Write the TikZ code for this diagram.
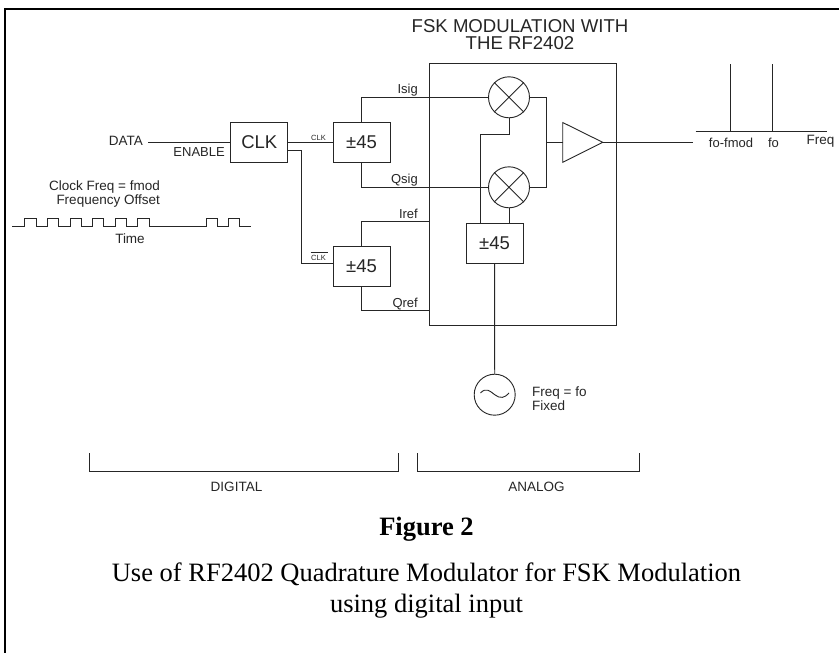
\documentclass[tikz,border=0pt]{standalone}
\usepackage{fontspec}
\setmainfont{Liberation Sans}
\newfontfamily\serifcap{Liberation Serif}
\tikzset{
  x=1pt,y=-1pt,
  wire/.style={draw=black!85,line width=0.9pt},
  boxn/.style={draw=black!85,line width=0.9pt,fill=white,minimum width=57pt,minimum height=40pt,inner sep=0pt,font=\fontsize{18.5}{18.5}\selectfont,text=black!85},
  lab/.style={inner sep=0pt,font=\fontsize{13.5}{14}\selectfont,text=black!85},
  tinylab/.style={inner sep=0pt,font=\fontsize{7.5}{8}\selectfont,text=black!85},
  mixer/.style={circle,draw=black!85,line width=0.9pt,fill=white,minimum size=41pt,inner sep=0pt},
  captxt/.style={inner sep=0pt,align=center,font=\serifcap\fontsize{26.5}{31}\selectfont},
}
\begin{document}
\begin{tikzpicture}
\useasboundingbox (0,0) rectangle (839,653);
\fill[white] (0,0) rectangle (839,653);
% frame
\coordinate (fTR) at (839,9);
\coordinate (fTL) at (5,9);
\coordinate (fBL) at (5,653);
\draw[line width=2pt,black] (fTR) -- (fTL) -- (fBL);
% title
\node[lab,align=center,font=\fontsize{18.6}{17}\selectfont] (title) at (520,34.5) {FSK MODULATION WITH\\THE RF2402};
% chip
\node[draw=black!85,line width=0.9pt,minimum width=187.4pt,minimum height=261.5pt,inner sep=0pt] (chip) at (523,194.2) {};
% boxes
\node[boxn] (clk) at (259.3,142.3) {CLK};
\node[boxn] (ps1) at (361.5,142.3) {±45};
\node[boxn] (ps2) at (361.5,266) {±45};
\node[boxn] (ps3) at (494.6,243.4) {±45};
\node[mixer] (m1) at (509,97.3) {};
\node[mixer] (m2) at (509,187.3) {};
\draw[wire] (m1.north west)--(m1.south east) (m1.north east)--(m1.south west);
\draw[wire] (m2.north west)--(m2.south east) (m2.north east)--(m2.south west);
% amplifier
\coordinate (a1) at (562.7,122.5);
\coordinate (a2) at (562.7,162.3);
\coordinate (a3) at (602.7,142.3);
\coordinate (ain) at (562.7,142.3);
\draw[wire,line join=miter] (a1) -- (a3) -- (a2) -- cycle;
% oscillator
\node[mixer] (osc) at (494.7,394.7) {};
\coordinate (w1) at (480.5,393);
\coordinate (w3) at (509,393);
\draw[wire] (w1) .. controls (486,387) and (490,391) .. (494.7,394.7) .. controls (500,399) and (505,398) .. (w3);
% input wires
\coordinate (dataS) at (148,142);
\draw[wire] (dataS) -- (clk.west |- dataS);
\coordinate (clkO) at (0,142);
\draw[wire] (clk.east |- clkO) -- (ps1.west |- clkO);
\coordinate (clkb) at (288,150);
\coordinate (clkc) at (301.7,150);
\coordinate (clkd) at (301.7,263.3);
\draw[wire] (clkb) -- (clkc) -- (clkd) -- (ps2.west |- clkd);
% sig wires
\coordinate (i1) at (361.7,97.3);
\draw[wire] (ps1.north -| i1) -- (i1) -- (m1.west);
\coordinate (q1) at (361.7,187.3);
\draw[wire] (ps1.south -| q1) -- (q1) -- (m2.west);
\coordinate (i2) at (361.7,221);
\draw[wire] (ps2.north -| i2) -- (i2) -- (chip.west |- i2);
\coordinate (q2) at (361.7,310.7);
\draw[wire] (ps2.south -| q2) -- (q2) -- (chip.west |- q2);
% internal
\coordinate (lo1) at (480.7,134);
\coordinate (lo2) at (509,134);
\draw[wire] (ps3.north -| lo1) -- (lo1) -- (lo2) -- (m1.south);
\draw[wire] (m2.south) -- (ps3.north -| m2.south);
\coordinate (sum1) at (546,97.3);
\coordinate (sum2) at (546,187.3);
\coordinate (sum3) at (546,142.3);
\draw[wire] (m1.east) -- (sum1) -- (sum2) -- (m2.east);
\draw[wire] (sum3) -- (ain);
\coordinate (outE) at (693,142.3);
\draw[wire] (a3) -- (outE);
\draw[wire] (ps3.south) -- (osc.north);
% spectrum
\coordinate (sL) at (695.7,131);
\coordinate (sR) at (826.7,131);
\coordinate (s1b) at (730,131);
\coordinate (s1t) at (730,63.5);
\coordinate (s2b) at (772.7,131);
\coordinate (s2t) at (772.7,63.5);
\draw[wire] (sL) -- (sR);
\draw[wire] (s1b) -- (s1t);
\draw[wire] (s2b) -- (s2t);
% brackets
\coordinate (b1a) at (89,453);
\coordinate (b1b) at (89,471);
\coordinate (b1c) at (398.5,471);
\coordinate (b1d) at (398.5,453);
\coordinate (b2a) at (417.5,453);
\coordinate (b2b) at (417.5,471);
\coordinate (b2c) at (639.5,471);
\coordinate (b2d) at (639.5,453);
\draw[wire] (b1a) -- (b1b) -- (b1c) -- (b1d);
\draw[wire] (b2a) -- (b2b) -- (b2c) -- (b2d);
% clock waveform
\coordinate (ck0) at (12.3,226.7);
\draw[wire] (ck0) -- (24,226.7) -- (24,218.3) -- (36,218.3) -- (36,226.7) -- (47,226.7) -- (47,218.3) -- (58,218.3) -- (58,226.7) -- (70,226.7) -- (70,218.3) -- (81,218.3) -- (81,226.7) -- (92,226.7) -- (92,218.3) -- (103,218.3) -- (103,226.7) -- (115,226.7) -- (115,218.3) -- (126,218.3) -- (126,226.7) -- (137,226.7) -- (137,218.3) -- (149,218.3) -- (149,226.7) -- (206,226.7) -- (206,218.3) -- (217,218.3) -- (217,226.7) -- (228,226.7) -- (228,218.3) -- (239,218.3) -- (239,226.7) -- (250.7,226.7);
% labels
\node[lab,anchor=east] (ldata) at (143,141) {DATA};
\node[lab,anchor=east,font=\fontsize{13}{14}\selectfont] (lena) at (225,152.5) {ENABLE};
\node[lab,anchor=east,align=right] (lck) at (160,193.7) {Clock Freq = fmod\\Frequency Offset};
\node[lab] (ltime) at (130,239) {Time};
\node[tinylab] (lclk) at (318.5,138) {CLK};
\node[tinylab] (lclkb) at (318.5,258) {CLK};
\coordinate (obL) at (310.5,252);
\coordinate (obR) at (327.5,252);
\draw[draw=black!85,line width=0.6pt] (obL) -- (obR);
\node[lab,anchor=east,font=\fontsize{13}{14}\selectfont] (lisig) at (418,90.5) {Isig};
\node[lab,anchor=east,font=\fontsize{13}{14}\selectfont] (lqsig) at (418,180.5) {Qsig};
\node[lab,anchor=east,font=\fontsize{13}{14}\selectfont] (liref) at (418,214) {Iref};
\node[lab,anchor=east,font=\fontsize{13}{14}\selectfont] (lqref) at (418,304) {Qref};
\node[lab,font=\fontsize{13}{14}\selectfont] (lf1) at (731,143) {fo-fmod};
\node[lab,font=\fontsize{13}{14}\selectfont] (lf2) at (773.5,143) {fo};
\node[lab] (lf3) at (820.5,141.5) {Freq};
\node[lab,anchor=west,align=left] (lfix) at (532,399) {Freq = fo\\Fixed};
\node[lab] (ldig) at (236.5,487) {DIGITAL};
\node[lab] (lana) at (536.5,487) {ANALOG};
\node[captxt,font=\serifcap\bfseries\fontsize{26.5}{30}\selectfont] (fig) at (426.5,529) {Figure 2};
\node[captxt] (capt) at (426.5,591) {Use of RF2402 Quadrature Modulator for FSK Modulation\\using digital input};
\end{tikzpicture}
\end{document}
